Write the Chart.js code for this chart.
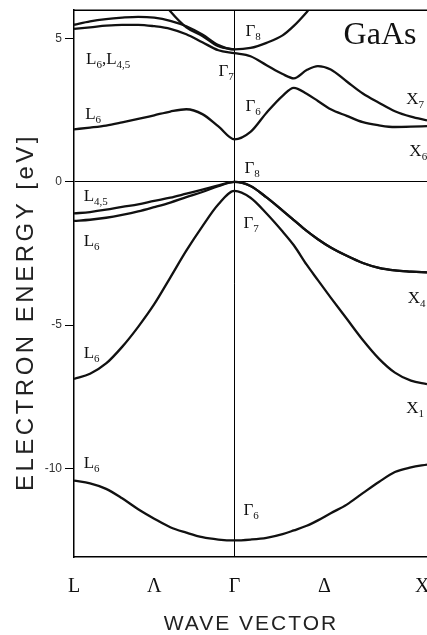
<!DOCTYPE html>
<html>
<head>
<meta charset="utf-8">
<title>GaAs band structure</title>
<script src="https://cdn.jsdelivr.net/npm/chart.js@4.4.1/dist/chart.umd.min.js"></script>
<style>
  html, body { margin: 0; padding: 0; background: #fff; }
  canvas { display: block; }
</style>
</head>
<body>
<canvas id="bandChart" width="427" height="635"></canvas>
<script>
// Wave vector along L - Gamma - X (L = -1, Gamma = 0, X at the right edge)
const kGrid = [-1.0, -0.9, -0.8, -0.7, -0.6, -0.5, -0.4, -0.3, -0.2, -0.1, 0,
               0.1, 0.2, 0.3, 0.37, 0.45, 0.52, 0.6, 0.7, 0.8, 0.9, 1.0, 1.1, 1.2];
const kTicks = [-1, -0.5, 0, 0.56, 1.17];
const kTickLabels = ['L', 'Λ', 'Γ', 'Δ', 'X'];
const energyTicks = [5, 0, -5, -10];

// Band energies in eV on kGrid (null = outside the window)
const bandS  = [-10.43, -10.53, -10.72, -11.05, -11.43, -11.76, -12.06, -12.25, -12.41, -12.49, -12.52,
                -12.49, -12.43, -12.30, -12.17, -12.01, -11.82, -11.57, -11.27, -10.87, -10.48, -10.13, -9.97, -9.87];
const bandSO = [-6.88, -6.70, -6.34, -5.76, -5.06, -4.27, -3.34, -2.40, -1.55, -0.78, -0.31,
                -0.55, -1.10, -1.73, -2.21, -2.89, -3.43, -4.04, -4.78, -5.52, -6.17, -6.66, -6.94, -7.06];
const bandLH = [-1.36, -1.32, -1.25, -1.15, -1.03, -0.88, -0.72, -0.53, -0.35, -0.15, 0,
                -0.14, -0.54, -1.00, -1.33, -1.71, -2.00, -2.29, -2.58, -2.83, -3.00, -3.09, -3.13, -3.16];
const bandHH = [-1.10, -1.05, -0.97, -0.87, -0.78, -0.66, -0.55, -0.41, -0.27, -0.12, 0,
                -0.14, -0.54, -1.00, -1.33, -1.71, -2.00, -2.29, -2.58, -2.83, -3.00, -3.09, -3.13, -3.16];
const bandC1 = [1.84, 1.90, 1.97, 2.08, 2.20, 2.33, 2.46, 2.54, 2.37, 1.94, 1.49,
                1.75, 2.42, 3.01, 3.29, 3.08, 2.83, 2.54, 2.31, 2.09, 1.98, 1.92, 1.93, 1.95];
const bandC2 = [5.35, 5.40, 5.46, 5.49, 5.49, 5.44, 5.35, 5.16, 4.88, 4.60, 4.50,
                4.39, 4.08, 3.77, 3.62, 3.91, 4.05, 3.93, 3.51, 3.09, 2.77, 2.47, 2.28, 2.15];
const bandC3 = [5.49, 5.61, 5.69, 5.74, 5.77, 5.74, 5.63, 5.44, 5.15, 4.78, 4.63,
                4.68, 4.86, 5.12, 5.45, 5.93, 6.40, null, null, null, null, null, null, null];
const bandC4 = [null, null, null, null, null, 6.70, 5.96, 5.40, 5.10, 4.74, 4.63,
                null, null, null, null, null, null, null, null, null, null, null, null, null];
const bands = [bandS, bandSO, bandLH, bandHH, bandC1, bandC2, bandC3, bandC4];

// Symmetry point labels: text with subscripts split by '|', then k and E of the baseline start
const pointLabels = [
  ['L|6|,L|4,5', -0.925, 4.12],
  ['L|6', -0.93, 2.20],
  ['Γ|8', 0.069, 5.09],
  ['Γ|7', -0.10, 3.70],
  ['Γ|6', 0.069, 2.48],
  ['X|7', 1.07, 2.72],
  ['X|6', 1.09, 0.91],
  ['Γ|8', 0.0625, 0.31],
  ['L|4,5', -0.94, -0.66],
  ['L|6', -0.94, -2.23],
  ['Γ|7', 0.056, -1.60],
  ['X|4', 1.08, -4.22],
  ['L|6', -0.94, -6.14],
  ['X|1', 1.07, -8.06],
  ['L|6', -0.94, -10.0],
  ['Γ|6', 0.056, -11.65]
];
const materialName = 'GaAs';
const yTitle = 'ELECTRON ENERGY [eV]';
const xTitle = 'WAVE VECTOR';

const serif = "'Liberation Serif', 'Times New Roman', serif";
const sans = "'Liberation Sans', Arial, sans-serif";

// Frame top, point labels and axis titles
const labelPlugin = {
  id: 'bandLabels',
  afterDraw(chart) {
    const { ctx, chartArea, scales: { x, y } } = chart;
    ctx.save();
    ctx.strokeStyle = '#000';
    ctx.lineWidth = 1.5;
    ctx.beginPath();
    ctx.moveTo(chartArea.left, chartArea.top);
    ctx.lineTo(chartArea.right, chartArea.top);
    ctx.stroke();

    ctx.fillStyle = '#111';
    ctx.textAlign = 'left';
    ctx.textBaseline = 'alphabetic';
    pointLabels.forEach(([text, k, e]) => {
      let px = x.getPixelForValue(k);
      const py = y.getPixelForValue(e);
      text.split('|').forEach((part, i) => {
        const sub = i % 2 === 1;
        ctx.font = (sub ? '11px ' : '17px ') + serif;
        ctx.fillText(part, px, sub ? py + 4 : py);
        px += ctx.measureText(part).width;
      });
    });

    ctx.font = '32px ' + serif;
    ctx.fillText(materialName, x.getPixelForValue(0.68), y.getPixelForValue(4.81));

    ctx.fillStyle = '#222';
    ctx.textAlign = 'center';
    ctx.letterSpacing = '3.5px';
    ctx.font = '24px ' + sans;
    ctx.save();
    ctx.translate(33, 312);
    ctx.rotate(-Math.PI / 2);
    ctx.fillText(yTitle, 0, 0);
    ctx.restore();

    ctx.letterSpacing = '2px';
    ctx.font = '21px ' + sans;
    ctx.fillText(xTitle, 251, 630);
    ctx.restore();
  }
};

new Chart(document.getElementById('bandChart'), {
  type: 'line',
  data: {
    datasets: bands.map(band => ({
      data: band.map((e, i) => ({ x: kGrid[i], y: e })),
      borderColor: '#111',
      borderWidth: 2.3,
      pointRadius: 0,
      cubicInterpolationMode: 'monotone',
      spanGaps: false
    }))
  },
  options: {
    responsive: false,
    animation: false,
    devicePixelRatio: 1,
    layout: { padding: { top: 9, right: 0, left: 0, bottom: 0 } },
    plugins: {
      legend: { display: false },
      tooltip: { enabled: false }
    },
    scales: {
      x: {
        type: 'linear',
        min: -1,
        max: 1.2,
        afterBuildTicks: scale => { scale.ticks = kTicks.map(v => ({ value: v })); },
        afterFit: scale => {
          scale.height = 78;
          // let the X label run off the edge instead of shrinking the plot
          scale.paddingLeft = 0;
          scale.paddingRight = 0;
        },
        ticks: {
          callback: (value, index) => kTickLabels[index],
          font: { family: serif, size: 20 },
          color: '#111',
          padding: 18,
          maxRotation: 0,
          autoSkip: false
        },
        grid: {
          color: c => (c.tick && c.tick.value === 0 ? '#000' : 'rgba(0,0,0,0)'),
          lineWidth: 1,
          drawTicks: false
        },
        border: { display: true, color: '#000', width: 1.5 }
      },
      y: {
        min: -13.1,
        max: 6.0,
        afterBuildTicks: scale => { scale.ticks = energyTicks.map(v => ({ value: v })); },
        afterFit: scale => { scale.width = 74; },
        ticks: {
          font: { family: sans, size: 12 },
          color: '#333',
          padding: 3
        },
        grid: {
          color: c => (c.tick && c.tick.value === 0 ? '#000' : 'rgba(0,0,0,0)'),
          tickColor: '#000',
          tickLength: 9,
          lineWidth: 1
        },
        border: { display: true, color: '#000', width: 1.5 }
      }
    }
  },
  plugins: [labelPlugin]
});
</script>
</body>
</html>
